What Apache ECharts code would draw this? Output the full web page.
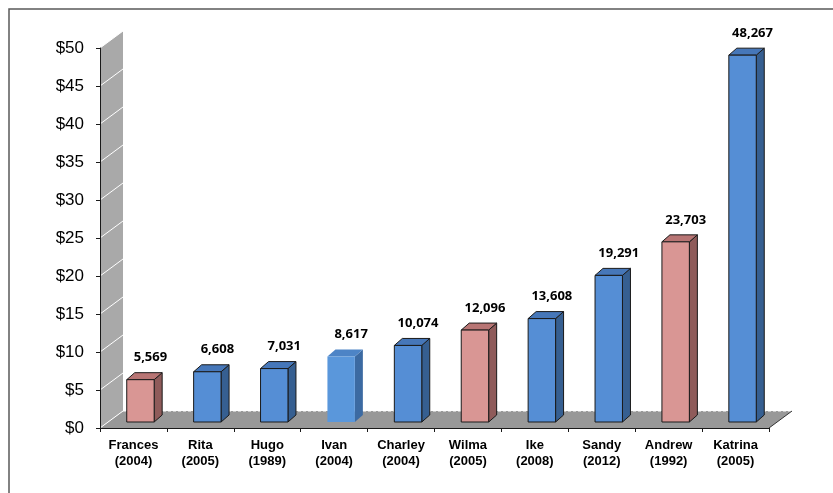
<!DOCTYPE html>
<html><head><meta charset="utf-8">
<script src="https://cdn.jsdelivr.net/npm/echarts@6/dist/echarts.min.js"></script>
<style>html,body{margin:0;padding:0;background:#fff}#c{width:833px;height:493px}</style>
</head><body><div id="c"></div>
<script>
// ---- data ----
const storms = ['Frances','Rita','Hugo','Ivan','Charley','Wilma','Ike','Sandy','Andrew','Katrina'];
const years  = ['2004','2005','1989','2004','2004','2005','2008','2012','1992','2005'];
const losses = [5569, 6608, 7031, 8617, 10074, 12096, 13608, 19291, 23703, 48267]; // $ millions
const groups = ['pink','blue','blue','light','blue','pink','blue','blue','pink','blue'];
const yTicks = [0, 5, 10, 15, 20, 25, 30, 35, 40, 45, 50]; // $ billions

// ---- styles ----
const palette = {
  pink:  {front:'#D99694', top:'#B87574', side:'#8F5B5A', stroke:'#1a1a1a'},
  blue:  {front:'#558ED5', top:'#4677B9', side:'#365F91', stroke:'#1a1a1a'},
  light: {front:'#5A97DB', top:'#4D84C6', side:'#3C6AA2', stroke:null}
};
const DX = 23, DY = 17;      // floor / wall depth
const OX = 7, OY = 6;        // bar front-face offset into depth
const BDX = 8, BDY = 7;      // bar depth

const categories = storms.map((s,i) => s + '\n(' + years[i] + ')');
const fmt = v => v.toLocaleString('en-US');

const chart = echarts.init(document.getElementById('c'));

function renderBackdrop(params, api) {
  const cs = params.coordSys;
  const L = cs.x, R = cs.x + cs.width, B = cs.y + cs.height;
  const yTop = api.coord([0, 50])[1];
  const children = [];
  children.push({type:'polygon', shape:{points:[[L,B],[L,yTop],[L+DX,yTop-DY],[L+DX,B-DY]]},
    style:{fill:'#A9A9A9'}});
  children.push({type:'polygon', shape:{points:[[L,B],[R,B],[R+DX,B-DY],[L+DX,B-DY]]},
    style:{fill:'#989898'}});
  yTicks.forEach(t => {
    const y = api.coord([0, t])[1];
    children.push({type:'line', shape:{x1:L, y1:y, x2:L+DX, y2:y-DY},
      style:{stroke:'#ffffff', lineWidth:1}});
  });
  children.push({type:'line', shape:{x1:L+DX, y1:B-DY, x2:R+DX, y2:B-DY},
    style:{stroke:'#ffffff', lineWidth:1, lineDash:[3,2]}});
  children.push({type:'line', shape:{x1:R, y1:B, x2:R+DX, y2:B-DY},
    style:{stroke:'#333333', lineWidth:1}});
  return {type:'group', children};
}

function renderBar(params, api) {
  const idx = api.value(0), val = api.value(1);
  const base = api.coord([idx, 0]);
  const topP = api.coord([idx, val]);
  const w = api.size([1, 0])[0] * 0.41;
  const xl = base[0] - w/2 + OX, xr = xl + w;
  const yb = base[1] - OY, yt = topP[1] - OY;
  const c = palette[groups[idx]];
  const st = c.stroke ? {stroke:c.stroke, lineWidth:1} : {stroke:null};
  return {type:'group', children:[
    {type:'polygon', shape:{points:[[xr,yb],[xr,yt],[xr+BDX,yt-BDY],[xr+BDX,yb-BDY]]},
      style:Object.assign({fill:c.side}, st)},
    {type:'polygon', shape:{points:[[xl,yt],[xr,yt],[xr+BDX,yt-BDY],[xl+BDX,yt-BDY]]},
      style:Object.assign({fill:c.top}, st)},
    {type:'rect', shape:{x:xl, y:yt, width:w, height:yb-yt},
      style:Object.assign({fill:c.front}, st)},
    {type:'text', style:{text:fmt(losses[idx]), x:(xl+xr)/2 + 10, y:yt - 22,
      align:'center', verticalAlign:'middle', fontFamily:'Open Sans', fontWeight:'bold',
      fontSize:13, fill:'#000'}}
  ]};
}

chart.setOption({
  animation:false,
  graphic:[{type:'rect', shape:{x:9, y:9, width:900, height:600},
    style:{fill:'none', stroke:'#5a5a5a', lineWidth:1.5}, z:100}],
  grid:{left:100, right:64, top:48, bottom:65},
  xAxis:{type:'category', data:categories, z:10,
    axisLine:{lineStyle:{color:'#1a1a1a', width:1}},
    axisTick:{show:true, length:4, alignWithLabel:false, lineStyle:{color:'#1a1a1a'}},
    axisLabel:{fontFamily:'Liberation Sans', fontWeight:'bold', fontSize:13, color:'#000',
      lineHeight:16, margin:9, interval:0},
    splitLine:{show:false}},
  yAxis:{type:'value', min:0, max:50, interval:5, z:10,
    axisLine:{show:true, lineStyle:{color:'#1a1a1a', width:1}},
    axisTick:{show:true, length:4, lineStyle:{color:'#1a1a1a'}},
    axisLabel:{formatter: v => '$' + v, fontFamily:'Liberation Sans', fontSize:17,
      color:'#000', margin:16},
    splitLine:{show:false}},
  series:[
    {type:'custom', renderItem:renderBackdrop, data:[[0,0]], clip:false, z:1, silent:true},
    {type:'custom', renderItem:renderBar, data:losses.map((v,i)=>[i, v/1000]),
      clip:false, z:3, encode:{x:0, y:1}}
  ]
});
</script></body></html>
